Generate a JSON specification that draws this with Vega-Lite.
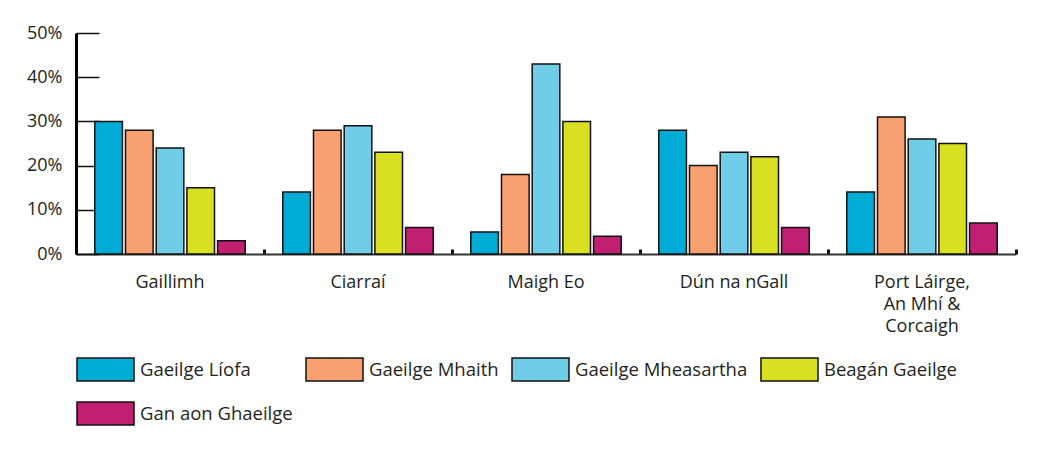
{
  "$schema": "https://vega.github.io/schema/vega-lite/v6.json",
  "width": 940,
  "height": 221,
  "autosize": {"type": "none"},
  "padding": {"left": 76, "top": 33, "right": 36, "bottom": 198},
  "background": "white",
  "data": {
    "values": [
      {"county": "Gaillimh", "level": "Gaeilge Líofa", "pct": 30},
      {"county": "Gaillimh", "level": "Gaeilge Mhaith", "pct": 28},
      {"county": "Gaillimh", "level": "Gaeilge Mheasartha", "pct": 24},
      {"county": "Gaillimh", "level": "Beagán Gaeilge", "pct": 15},
      {"county": "Gaillimh", "level": "Gan aon Ghaeilge", "pct": 3},
      {"county": "Ciarraí", "level": "Gaeilge Líofa", "pct": 14},
      {"county": "Ciarraí", "level": "Gaeilge Mhaith", "pct": 28},
      {"county": "Ciarraí", "level": "Gaeilge Mheasartha", "pct": 29},
      {"county": "Ciarraí", "level": "Beagán Gaeilge", "pct": 23},
      {"county": "Ciarraí", "level": "Gan aon Ghaeilge", "pct": 6},
      {"county": "Maigh Eo", "level": "Gaeilge Líofa", "pct": 5},
      {"county": "Maigh Eo", "level": "Gaeilge Mhaith", "pct": 18},
      {"county": "Maigh Eo", "level": "Gaeilge Mheasartha", "pct": 43},
      {"county": "Maigh Eo", "level": "Beagán Gaeilge", "pct": 30},
      {"county": "Maigh Eo", "level": "Gan aon Ghaeilge", "pct": 4},
      {"county": "Dún na nGall", "level": "Gaeilge Líofa", "pct": 28},
      {"county": "Dún na nGall", "level": "Gaeilge Mhaith", "pct": 20},
      {"county": "Dún na nGall", "level": "Gaeilge Mheasartha", "pct": 23},
      {"county": "Dún na nGall", "level": "Beagán Gaeilge", "pct": 22},
      {"county": "Dún na nGall", "level": "Gan aon Ghaeilge", "pct": 6},
      {"county": "Port Láirge,\nAn Mhí &\nCorcaigh", "level": "Gaeilge Líofa", "pct": 14},
      {"county": "Port Láirge,\nAn Mhí &\nCorcaigh", "level": "Gaeilge Mhaith", "pct": 31},
      {"county": "Port Láirge,\nAn Mhí &\nCorcaigh", "level": "Gaeilge Mheasartha", "pct": 26},
      {"county": "Port Láirge,\nAn Mhí &\nCorcaigh", "level": "Beagán Gaeilge", "pct": 25},
      {"county": "Port Láirge,\nAn Mhí &\nCorcaigh", "level": "Gan aon Ghaeilge", "pct": 7}
    ]
  },
  "mark": {"type": "bar", "stroke": "#111111", "strokeWidth": 1.5, "strokeJoin": "miter"},
  "encoding": {
    "x": {
      "field": "county",
      "type": "nominal",
      "sort": ["Gaillimh", "Ciarraí", "Maigh Eo", "Dún na nGall", "Port Láirge,\nAn Mhí &\nCorcaigh"],
      "scale": {"paddingInner": 0.2, "paddingOuter": 0.1},
      "axis": {
        "title": null,
        "labelAngle": 0,
        "labelExpr": "split(datum.label, '\\n')",
        "labelFontSize": 18,
        "labelLineHeight": 22,
        "labelColor": "#231f20",
        "labelPadding": 24,
        "labelBaseline": "top",
        "bandPosition": 1.125,
        "domainColor": "#333333",
        "domainWidth": 2,
        "tickColor": "#111111",
        "tickWidth": 3,
        "tickSize": -5
      }
    },
    "xOffset": {
      "field": "level",
      "sort": ["Gaeilge Líofa", "Gaeilge Mhaith", "Gaeilge Mheasartha", "Beagán Gaeilge", "Gan aon Ghaeilge"],
      "scale": {"paddingInner": 0.1, "paddingOuter": 0}
    },
    "y": {
      "field": "pct",
      "type": "quantitative",
      "scale": {"domain": [0, 50], "nice": false},
      "axis": {
        "title": null,
        "values": [0, 10, 20, 30, 40, 50],
        "labelExpr": "datum.value + '%'",
        "grid": false,
        "labelFontSize": 18,
        "labelColor": "#231f20",
        "labelPadding": 37,
        "domainColor": "#000000",
        "domainWidth": 3,
        "tickColor": "#111111",
        "tickWidth": 1.5,
        "tickSize": -23
      }
    },
    "color": {
      "field": "level",
      "type": "nominal",
      "sort": ["Gaeilge Líofa", "Gaeilge Mhaith", "Gaeilge Mheasartha", "Beagán Gaeilge", "Gan aon Ghaeilge"],
      "scale": {
        "domain": ["Gaeilge Líofa", "Gaeilge Mhaith", "Gaeilge Mheasartha", "Beagán Gaeilge", "Gan aon Ghaeilge"],
        "range": ["#00abd5", "#f9a070", "#70cde8", "#d8e021", "#c11f71"]
      },
      "legend": {
        "title": null,
        "orient": "none",
        "legendX": 0,
        "legendY": 307,
        "direction": "horizontal",
        "columns": 4,
        "symbolType": "M-1,-0.4035H1V0.4035H-1Z",
        "symbolSize": 3249,
        "symbolStrokeColor": "#111111",
        "symbolStrokeWidth": 1.5,
        "symbolOpacity": 1,
        "labelFontSize": 18.5,
        "labelLimit": 400,
        "labelColor": "#231f20",
        "labelOffset": 5,
        "columnPadding": 10,
        "rowPadding": -3,
        "padding": 0
      }
    }
  },
  "config": {
    "view": {"stroke": null},
    "font": "Open Sans"
  }
}
